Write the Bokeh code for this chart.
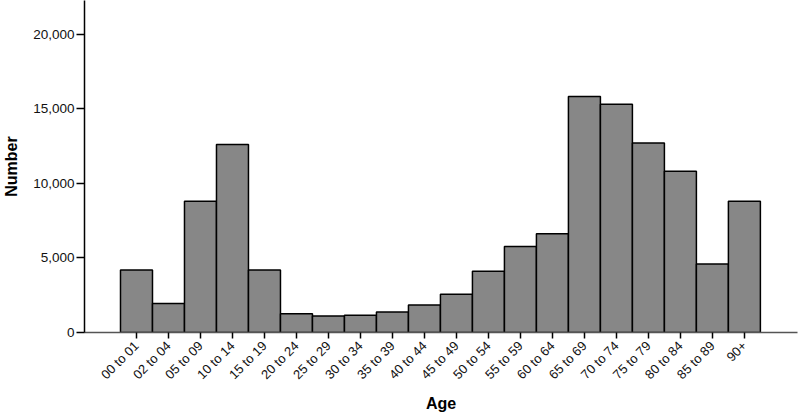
from bokeh.plotting import figure
from bokeh.models import Range1d, FixedTicker, NumeralTickFormatter, ColumnDataSource
from bokeh.embed import file_html
from bokeh.resources import INLINE
import math

age_groups = ["00 to 01", "02 to 04", "05 to 09", "10 to 14", "15 to 19", "20 to 24",
              "25 to 29", "30 to 34", "35 to 39", "40 to 44", "45 to 49", "50 to 54",
              "55 to 59", "60 to 64", "65 to 69", "70 to 74", "75 to 79", "80 to 84",
              "85 to 89", "90+"]
counts = [4200, 1950, 8800, 12620, 4200, 1250, 1100, 1150, 1370, 1840,
          2560, 4110, 5770, 6620, 15840, 15320, 12710, 10820, 4600, 8810]
y_ticks = [0, 5000, 10000, 15000, 20000]

pos = list(range(len(age_groups)))
src = ColumnDataSource(dict(x=pos, top=counts, label=age_groups))

FONT = "Liberation Sans"

p = figure(width=800, height=419, output_backend="svg", toolbar_location=None,
           x_range=Range1d(-1.625, 20.66), y_range=Range1d(0, 22280),
           min_border_left=84, min_border_right=3, min_border_top=0, min_border_bottom=87)

p.vbar(x="x", top="top", width=1.0, bottom=0, source=src,
       fill_color="#878787", line_color="#000000", line_width=1.5)

p.xgrid.grid_line_color = None
p.ygrid.grid_line_color = None
p.outline_line_color = None
p.background_fill_color = "white"

xa = p.xaxis[0]
xa.ticker = FixedTicker(ticks=pos)
xa.major_label_overrides = {i: lab for i, lab in enumerate(age_groups)}
xa.major_label_orientation = math.pi / 4
xa.major_label_text_font = FONT
xa.major_label_text_font_size = "13px"
xa.major_label_text_color = "#111111"
xa.major_tick_out = 6
xa.major_tick_in = 0
xa.major_tick_line_color = "#000000"
xa.major_tick_line_width = 1.5
xa.minor_tick_line_color = None
xa.axis_line_color = "#555555"
xa.axis_line_width = 1.5
xa.axis_label = "Age"
xa.axis_label_text_font = FONT
xa.axis_label_text_font_style = "bold"
xa.axis_label_text_font_size = "16px"
xa.axis_label_text_color = "#000000"
xa.axis_label_standoff = 5

ya = p.yaxis[0]
ya.ticker = FixedTicker(ticks=y_ticks)
ya.formatter = NumeralTickFormatter(format="0,0")
ya.major_label_text_font = FONT
ya.major_label_text_font_size = "13.5px"
ya.major_label_text_color = "#111111"
ya.major_tick_out = 8
ya.major_tick_in = 0
ya.major_tick_line_color = "#000000"
ya.major_tick_line_width = 1.5
ya.minor_tick_line_color = None
ya.axis_line_color = "#000000"
ya.axis_line_width = 1.5
ya.major_label_standoff = 2
ya.axis_label = "Number"
ya.axis_label_text_font = FONT
ya.axis_label_text_font_style = "bold"
ya.axis_label_text_font_size = "16px"
ya.axis_label_text_color = "#000000"
ya.axis_label_standoff = 10

open("out.html", "w").write(file_html(p, INLINE))
